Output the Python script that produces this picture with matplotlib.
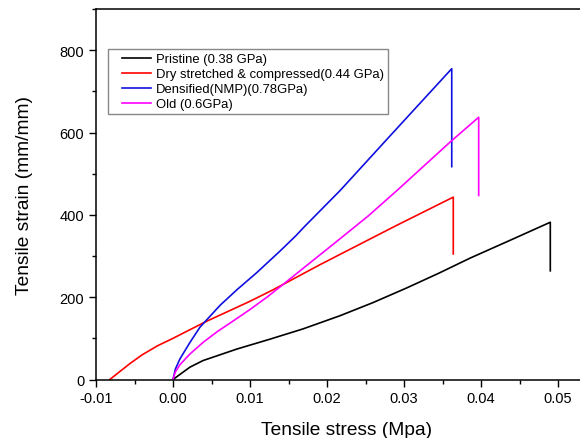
import matplotlib
matplotlib.use('Agg')
import matplotlib.pyplot as plt
from matplotlib.ticker import MultipleLocator
from matplotlib.legend_handler import HandlerLine2D

plt.rcParams['font.family'] = ['Liberation Sans', 'DejaVu Sans']

# curves (stress in MPa, strain in mm/mm)
pristine_x = [0.0, 0.0022, 0.0039, 0.0083, 0.0126, 0.0169, 0.0217, 0.026, 0.0303,
              0.0345, 0.0386, 0.044, 0.049, 0.049]
pristine_y = [0, 30, 46, 74, 98, 123, 155, 187, 222, 258, 295, 340, 382, 264]

dry_x = [-0.0082, -0.007, -0.0055, -0.004, -0.002, 0.0, 0.0042, 0.01, 0.013, 0.0165,
         0.0191, 0.0217, 0.029, 0.0364, 0.0364]
dry_y = [0, 18, 40, 60, 82, 100, 140, 190, 218, 253, 279, 304, 374, 443, 305]

dens_x = [0.0, 0.0003, 0.0009, 0.0022, 0.0035, 0.0061, 0.0083, 0.0109, 0.0139,
          0.016, 0.017, 0.0217, 0.0282, 0.0362, 0.0362]
dens_y = [0, 25, 50, 90, 127, 180, 218, 260, 312, 350, 370, 459, 592, 755, 517]

old_x = [0.0, 0.0003, 0.0009, 0.0022, 0.0039, 0.0058, 0.0078, 0.01, 0.0122, 0.0139,
         0.0165, 0.0191, 0.0217, 0.0254, 0.0292, 0.036, 0.0397, 0.0397]
old_y = [0, 18, 36, 62, 90, 117, 142, 170, 200, 225, 264, 303, 342, 398, 461, 577,
         637, 447]

labels = ['Pristine (0.38 GPa)', 'Dry stretched & compressed(0.44 GPa)',
          'Densified(NMP)(0.78GPa)', 'Old (0.6GPa)']
colors = ['black', '#ff0000', '#1010e0', '#ff00ff']


class ShortLine(HandlerLine2D):
    """ legend line that leaves a gap on its left side """
    def get_xdata(self, legend, xdescent, ydescent, width, height, fontsize):
        x0 = -xdescent + 0.25 * width
        return [x0, -xdescent + width], [x0, -xdescent + width]


fig = plt.figure(figsize=(5.8, 4.39), dpi=100)
ax = fig.add_axes([96 / 580, 58.5 / 439, 500.5 / 580, 370.5 / 439])

series = [(pristine_x, pristine_y), (dry_x, dry_y), (dens_x, dens_y), (old_x, old_y)]
for (x, y), lab, col in zip(series, labels, colors):
    ax.plot(x, y, color=col, lw=1.2, label=lab)

ax.set_xlim(-0.01, 0.055)
ax.set_ylim(0, 900)
ax.set_xticks([-0.01, 0.0, 0.01, 0.02, 0.03, 0.04, 0.05])
ax.set_xticklabels(['-0.01', '0.00', '0.01', '0.02', '0.03', '0.04', '0.05'])
ax.xaxis.set_minor_locator(MultipleLocator(0.005))
ax.set_yticks([0, 200, 400, 600, 800])
ax.yaxis.set_minor_locator(MultipleLocator(100))
ax.tick_params(which='major', length=5, width=1, labelsize=10.5)
ax.tick_params(which='minor', length=3, width=1)
ax.spines['right'].set_visible(False)
for s in ax.spines.values():
    s.set_linewidth(1.1)

ax.set_xlabel('Tensile stress (Mpa)', fontsize=13.8, labelpad=11)
ax.set_ylabel('Tensile strain (mm/mm)', fontsize=13.8, labelpad=19)

leg = ax.legend(loc='upper left', bbox_to_anchor=(0.024, 0.892), borderaxespad=0,
                fontsize=9.4, fancybox=False, framealpha=1, edgecolor='#888888',
                handlelength=3.0, handletextpad=0.35, labelspacing=0.22,
                borderpad=0.3, handler_map={plt.Line2D: ShortLine()})

fig.savefig('out.png', dpi=100)
